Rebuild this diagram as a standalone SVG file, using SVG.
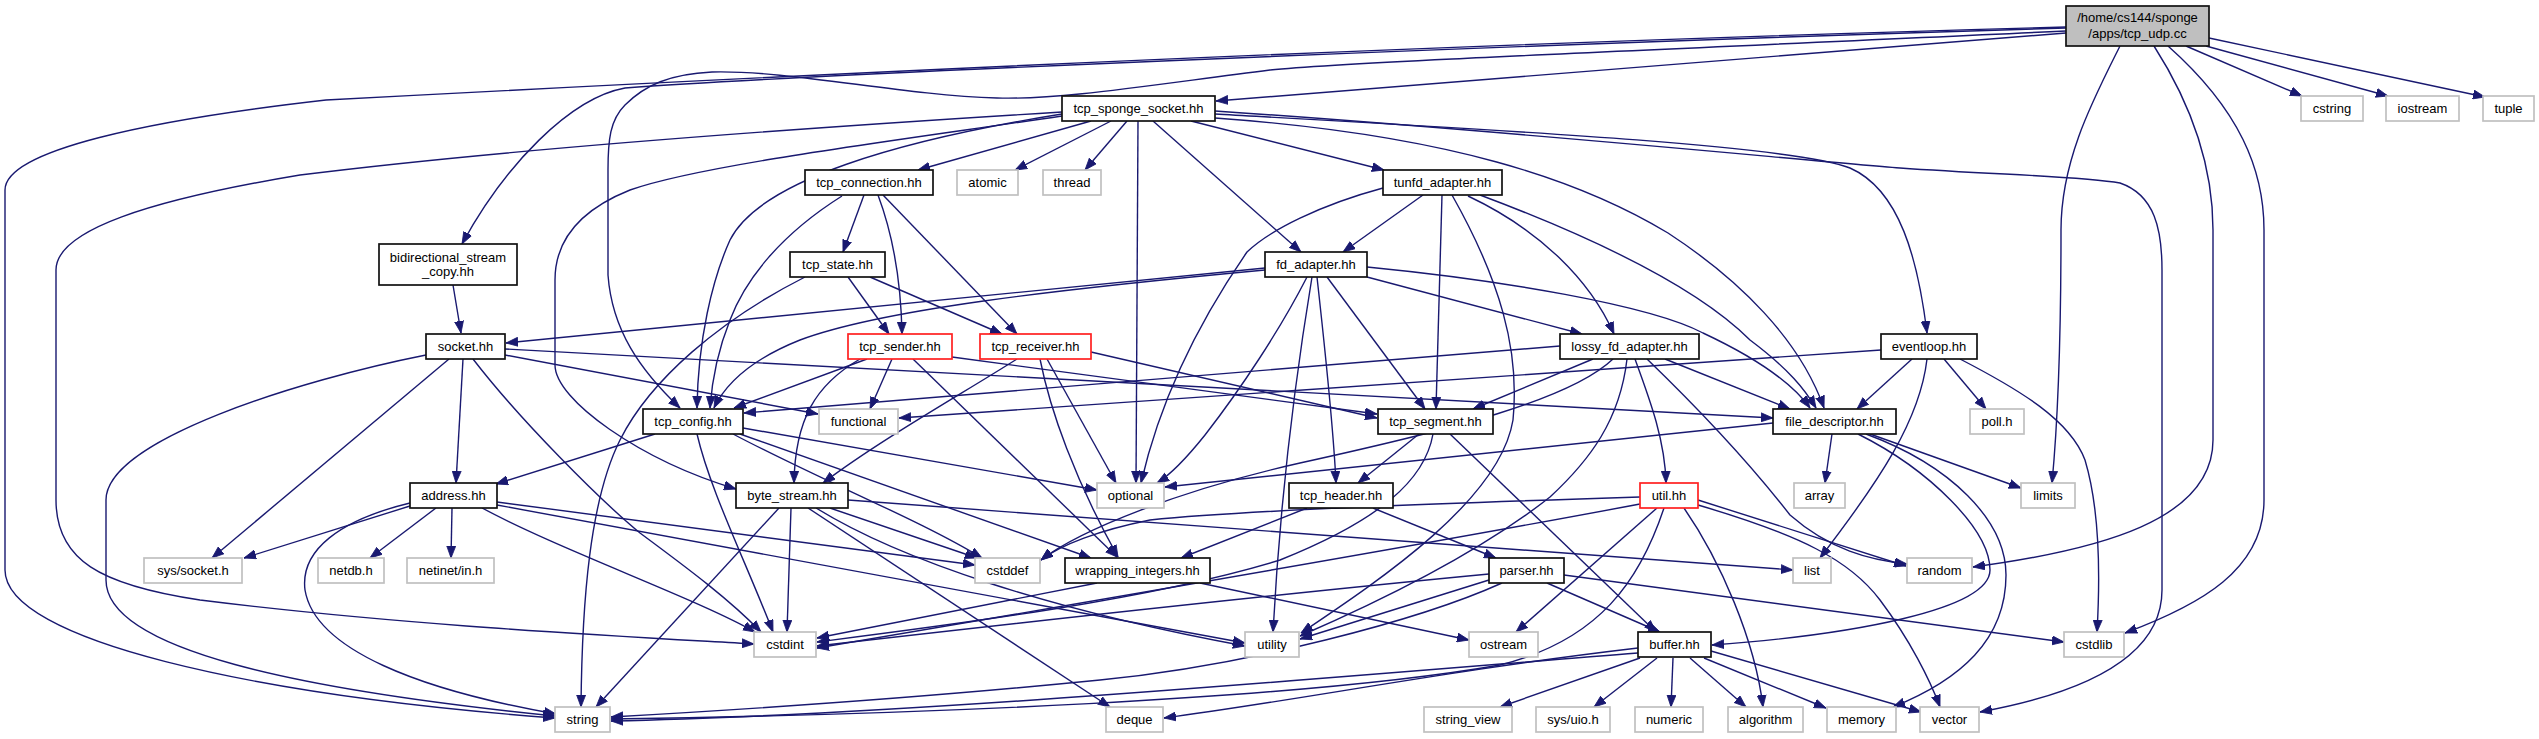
<svg xmlns="http://www.w3.org/2000/svg" width="2539" height="739" viewBox="0 0 2539 739">
<style>
.b rect{fill:#fff;stroke:#111;stroke-width:1.7}
.g rect{fill:#fff;stroke:#c0c0c0;stroke-width:1.7}
.r rect{fill:#fff;stroke:#ff2020;stroke-width:1.7}
.root rect{fill:#bfbfbf;stroke:#111;stroke-width:1.7}
text{font-family:"Liberation Sans",Arial,sans-serif;font-size:13px;text-anchor:middle;fill:#000}
#edges path{fill:none;stroke:#191970;stroke-width:1.4;marker-end:url(#a)}
</style>
<defs>
<marker id="a" markerUnits="userSpaceOnUse" markerWidth="13" markerHeight="10" refX="12" refY="4.5" orient="auto" viewBox="0 0 13 9">
<path d="M0,0 L12,4.5 L0,9 z" fill="#191970" stroke="#191970" stroke-width="0.8"/>
</marker>
</defs>
<rect width="2539" height="739" fill="#fff"/>
<g id="edges">
<path d="M2186,46 L2302,96"/>
<path d="M2206,46 L2388,96"/>
<path d="M2209,38 L2485,97"/>
<path d="M2120,46 C2093,100 2061,160 2061,230 C2061,330 2058,420 2052,483"/>
<path d="M2154,46 C2195,110 2213,170 2213,230 L2213,440 C2213,520 2100,550 1973,567"/>
<path d="M2168,46 C2240,110 2264,170 2264,230 L2264,500 C2264,570 2200,605 2125,633"/>
<path d="M2066,33 C1700,60 1400,85 1216,101"/>
<path d="M2066,31 C1700,48 1350,62 1270,70 C1150,85 1060,100 997,98 C900,95 790,70 712,72 C670,74 645,85 625,105 C610,120 608,140 608,170 L608,275 C612,330 640,370 680,408"/>
<path d="M2066,28 C1500,45 800,75 625,88 C570,98 505,165 462,244"/>
<path d="M2066,27 C1400,45 700,80 326,100 C150,120 5,150 5,190 L5,570 C5,640 250,695 555,718"/>
<path d="M1091,121 L918,170"/>
<path d="M1111,121 L1015,170"/>
<path d="M1127,121 L1085,170"/>
<path d="M1138,121 L1136,483"/>
<path d="M1153,121 L1301,252"/>
<path d="M1191,121 L1384,170"/>
<path d="M1215,111 C1500,130 1800,160 1900,168 C2000,175 2080,176 2120,183 C2155,195 2162,230 2162,270 L2162,590 C2162,650 2100,690 1980,712"/>
<path d="M1215,114 C1500,130 1790,145 1850,168 C1900,190 1918,260 1927,333"/>
<path d="M1215,118 C1450,135 1580,180 1668,233 C1740,280 1800,340 1824,408"/>
<path d="M1062,114 C900,140 760,180 730,240 C712,280 698,340 697,408"/>
<path d="M1062,116 C900,140 700,165 630,190 C580,210 555,240 555,280 L555,365 C555,400 640,460 736,489"/>
<path d="M1062,112 C800,128 500,150 300,175 C150,200 56,230 56,270 L56,500 C56,560 100,585 200,600 C400,625 600,635 754,644"/>
<path d="M864,195 L843,252"/>
<path d="M878,195 C893,235 901,280 902,334"/>
<path d="M883,195 L1017,334"/>
<path d="M842,196 C780,235 745,280 730,320 C718,350 712,380 710,408"/>
<path d="M848,277 L889,334"/>
<path d="M870,277 L1002,334"/>
<path d="M805,277 C720,320 650,380 620,440 C590,500 582,600 581,707"/>
<path d="M867,359 L734,408"/>
<path d="M892,359 L870,409"/>
<path d="M860,359 C815,385 795,420 794,483"/>
<path d="M913,359 L1117,557"/>
<path d="M952,357 L1377,414"/>
<path d="M1017,359 C960,395 880,440 823,483"/>
<path d="M1047,359 L1116,483"/>
<path d="M1040,359 C1050,410 1075,480 1118,557"/>
<path d="M1091,352 L1377,418"/>
<path d="M453,285 L461,333"/>
<path d="M463,359 L456,483"/>
<path d="M505,349 L1773,418"/>
<path d="M473,359 C520,420 600,500 640,533 C690,570 730,600 761,632"/>
<path d="M505,355 L818,414"/>
<path d="M426,355 C300,380 106,440 106,500 L106,580 C106,650 300,690 555,716"/>
<path d="M449,359 L212,558"/>
<path d="M1265,268 L506,343"/>
<path d="M1265,270 C1050,290 880,310 800,340 C750,360 725,385 714,408"/>
<path d="M1367,277 L1582,334"/>
<path d="M1367,267 C1500,280 1650,305 1703,333 C1750,355 1790,380 1810,408"/>
<path d="M1307,277 C1280,330 1240,390 1205,435 C1185,460 1170,475 1157,483"/>
<path d="M1312,277 C1295,380 1280,500 1273,632"/>
<path d="M1317,277 C1325,350 1333,420 1336,483"/>
<path d="M1327,277 L1425,409"/>
<path d="M1423,195 L1343,252"/>
<path d="M1442,195 L1436,409"/>
<path d="M1452,195 C1500,280 1520,350 1513,420 C1500,500 1380,580 1301,633"/>
<path d="M1468,196 C1540,230 1590,280 1614,334"/>
<path d="M1480,195 C1600,240 1700,290 1750,340 C1790,370 1805,390 1816,408"/>
<path d="M1383,188 C1320,205 1270,230 1247,252 C1200,320 1160,400 1141,483"/>
<path d="M1560,346 L744,413"/>
<path d="M1593,359 L1473,409"/>
<path d="M1613,359 C1570,400 1450,430 1300,463 C1180,490 1080,530 1041,560"/>
<path d="M1627,359 C1620,420 1590,460 1550,497 C1470,560 1360,610 1300,636"/>
<path d="M1635,359 C1650,400 1665,440 1666,483"/>
<path d="M1647,359 C1705,415 1755,470 1790,515 C1830,550 1870,560 1907,564"/>
<path d="M1665,359 L1790,409"/>
<path d="M1912,359 L1857,409"/>
<path d="M1944,359 L1986,409"/>
<path d="M1927,359 C1920,420 1880,480 1820,558"/>
<path d="M1960,359 C2020,390 2070,420 2085,460 C2100,510 2100,580 2097,632"/>
<path d="M1881,350 L899,418"/>
<path d="M655,434 L496,484"/>
<path d="M697,434 C710,490 745,560 773,632"/>
<path d="M740,434 L1091,558"/>
<path d="M733,434 C820,480 920,520 982,558"/>
<path d="M743,428 L1097,490"/>
<path d="M410,506 L244,558"/>
<path d="M436,508 L370,558"/>
<path d="M452,508 L451,558"/>
<path d="M410,503 C340,520 300,550 305,590 C315,650 420,690 556,714"/>
<path d="M497,502 L975,565"/>
<path d="M482,508 C560,550 700,600 755,632"/>
<path d="M497,505 L1245,643"/>
<path d="M779,508 L596,707"/>
<path d="M791,508 L787,632"/>
<path d="M808,508 L1110,707"/>
<path d="M816,508 C900,560 1050,610 1245,646"/>
<path d="M830,508 L977,558"/>
<path d="M848,500 L1793,570"/>
<path d="M1419,434 L1358,483"/>
<path d="M1450,434 L1656,632"/>
<path d="M1433,434 C1425,480 1380,520 1280,560 C1150,600 950,625 817,642"/>
<path d="M1307,508 L1181,558"/>
<path d="M1373,508 L1496,558"/>
<path d="M1097,583 L817,638"/>
<path d="M1200,583 L1469,640"/>
<path d="M1547,583 L1660,632"/>
<path d="M1489,574 C1300,592 1000,625 817,646"/>
<path d="M1489,580 L1300,639"/>
<path d="M1502,583 C1420,620 1250,665 1100,680 C900,700 700,712 611,717"/>
<path d="M1564,575 L2064,642"/>
<path d="M1640,497 C1450,503 1250,510 1150,520 C1100,530 1060,545 1041,560"/>
<path d="M1640,504 C1450,540 1100,600 817,648"/>
<path d="M1657,508 L1516,632"/>
<path d="M1664,508 C1640,580 1600,640 1500,665 C1300,700 900,715 611,719"/>
<path d="M1684,508 C1720,560 1755,640 1763,707"/>
<path d="M1698,500 L1906,566"/>
<path d="M1698,505 C1800,535 1850,560 1880,600 C1910,640 1930,680 1940,707"/>
<path d="M1640,658 L1500,707"/>
<path d="M1657,658 L1594,707"/>
<path d="M1673,658 L1671,707"/>
<path d="M1690,658 L1746,707"/>
<path d="M1704,658 L1826,708"/>
<path d="M1711,651 L1921,712"/>
<path d="M1638,648 C1450,670 1300,700 1164,718"/>
<path d="M1638,653 C1300,680 900,715 611,721"/>
<path d="M1773,423 L1165,487"/>
<path d="M1832,434 L1825,483"/>
<path d="M1870,434 L2021,488"/>
<path d="M1858,434 C1930,470 1990,530 1990,570 C1990,610 1850,635 1712,645"/>
<path d="M1866,434 C1950,465 2006,520 2006,575 C2006,640 1960,680 1893,707"/>
</g>
<g id="n_root" class="root"><rect x="2066" y="6" width="143" height="40"/><text x="2137.5" y="22">/home/cs144/sponge</text><text x="2137.5" y="38">/apps/tcp_udp.cc</text></g>
<g id="n_tss" class="b"><rect x="1062" y="96" width="153" height="25"/><text x="1138.5" y="113">tcp_sponge_socket.hh</text></g>
<g id="n_cstring" class="g"><rect x="2301" y="96" width="62" height="25"/><text x="2332" y="113">cstring</text></g>
<g id="n_iostream" class="g"><rect x="2386" y="96" width="73" height="25"/><text x="2422.5" y="113">iostream</text></g>
<g id="n_tuple" class="g"><rect x="2483" y="96" width="51" height="25"/><text x="2508.5" y="113">tuple</text></g>
<g id="n_tc" class="b"><rect x="805" y="170" width="128" height="25"/><text x="869" y="187">tcp_connection.hh</text></g>
<g id="n_atomic" class="g"><rect x="957" y="170" width="61" height="25"/><text x="987.5" y="187">atomic</text></g>
<g id="n_thread" class="g"><rect x="1043" y="170" width="58" height="25"/><text x="1072" y="187">thread</text></g>
<g id="n_tunfd" class="b"><rect x="1383" y="170" width="119" height="25"/><text x="1442.5" y="187">tunfd_adapter.hh</text></g>
<g id="n_bid" class="b"><rect x="379" y="244" width="138" height="41"/><text x="448" y="262">bidirectional_stream</text><text x="448" y="276">_copy.hh</text></g>
<g id="n_ts" class="b"><rect x="790" y="252" width="95" height="25"/><text x="837.5" y="269">tcp_state.hh</text></g>
<g id="n_fd" class="b"><rect x="1265" y="252" width="102" height="25"/><text x="1316" y="269">fd_adapter.hh</text></g>
<g id="n_socket" class="b"><rect x="426" y="334" width="79" height="25"/><text x="465.5" y="351">socket.hh</text></g>
<g id="n_snd" class="r"><rect x="848" y="334" width="104" height="25"/><text x="900" y="351">tcp_sender.hh</text></g>
<g id="n_rcv" class="r"><rect x="980" y="334" width="111" height="25"/><text x="1035.5" y="351">tcp_receiver.hh</text></g>
<g id="n_lossy" class="b"><rect x="1560" y="334" width="139" height="25"/><text x="1629.5" y="351">lossy_fd_adapter.hh</text></g>
<g id="n_ev" class="b"><rect x="1881" y="334" width="96" height="25"/><text x="1929" y="351">eventloop.hh</text></g>
<g id="n_cfg" class="b"><rect x="643" y="409" width="100" height="25"/><text x="693" y="426">tcp_config.hh</text></g>
<g id="n_functional" class="g"><rect x="819" y="409" width="79" height="25"/><text x="858.5" y="426">functional</text></g>
<g id="n_seg" class="b"><rect x="1378" y="409" width="115" height="25"/><text x="1435.5" y="426">tcp_segment.hh</text></g>
<g id="n_fds" class="b"><rect x="1773" y="409" width="123" height="25"/><text x="1834.5" y="426">file_descriptor.hh</text></g>
<g id="n_poll" class="g"><rect x="1970" y="409" width="54" height="25"/><text x="1997" y="426">poll.h</text></g>
<g id="n_addr" class="b"><rect x="410" y="483" width="87" height="25"/><text x="453.5" y="500">address.hh</text></g>
<g id="n_bs" class="b"><rect x="736" y="483" width="112" height="25"/><text x="792" y="500">byte_stream.hh</text></g>
<g id="n_optional" class="g"><rect x="1097" y="483" width="67" height="25"/><text x="1130.5" y="500">optional</text></g>
<g id="n_hdr" class="b"><rect x="1289" y="483" width="104" height="25"/><text x="1341" y="500">tcp_header.hh</text></g>
<g id="n_util" class="r"><rect x="1640" y="483" width="58" height="25"/><text x="1669" y="500">util.hh</text></g>
<g id="n_array" class="g"><rect x="1794" y="483" width="51" height="25"/><text x="1819.5" y="500">array</text></g>
<g id="n_limits" class="g"><rect x="2021" y="483" width="54" height="25"/><text x="2048" y="500">limits</text></g>
<g id="n_syssocket" class="g"><rect x="144" y="558" width="98" height="25"/><text x="193" y="575">sys/socket.h</text></g>
<g id="n_netdb" class="g"><rect x="318" y="558" width="66" height="25"/><text x="351" y="575">netdb.h</text></g>
<g id="n_netinet" class="g"><rect x="407" y="558" width="87" height="25"/><text x="450.5" y="575">netinet/in.h</text></g>
<g id="n_cstddef" class="g"><rect x="975" y="558" width="65" height="25"/><text x="1007.5" y="575">cstddef</text></g>
<g id="n_wi" class="b"><rect x="1065" y="558" width="145" height="25"/><text x="1137.5" y="575">wrapping_integers.hh</text></g>
<g id="n_parser" class="b"><rect x="1489" y="558" width="75" height="25"/><text x="1526.5" y="575">parser.hh</text></g>
<g id="n_list" class="g"><rect x="1793" y="558" width="38" height="25"/><text x="1812" y="575">list</text></g>
<g id="n_random" class="g"><rect x="1907" y="558" width="65" height="25"/><text x="1939.5" y="575">random</text></g>
<g id="n_cstdint" class="g"><rect x="754" y="632" width="62" height="25"/><text x="785" y="649">cstdint</text></g>
<g id="n_utility" class="g"><rect x="1245" y="632" width="54" height="25"/><text x="1272" y="649">utility</text></g>
<g id="n_ostream" class="g"><rect x="1469" y="632" width="69" height="25"/><text x="1503.5" y="649">ostream</text></g>
<g id="n_buffer" class="b"><rect x="1638" y="632" width="73" height="25"/><text x="1674.5" y="649">buffer.hh</text></g>
<g id="n_cstdlib" class="g"><rect x="2064" y="632" width="60" height="25"/><text x="2094" y="649">cstdlib</text></g>
<g id="n_string" class="g"><rect x="555" y="707" width="55" height="25"/><text x="582.5" y="724">string</text></g>
<g id="n_deque" class="g"><rect x="1106" y="707" width="57" height="25"/><text x="1134.5" y="724">deque</text></g>
<g id="n_stringview" class="g"><rect x="1424" y="707" width="88" height="25"/><text x="1468" y="724">string_view</text></g>
<g id="n_sysuio" class="g"><rect x="1536" y="707" width="74" height="25"/><text x="1573" y="724">sys/uio.h</text></g>
<g id="n_numeric" class="g"><rect x="1635" y="707" width="68" height="25"/><text x="1669" y="724">numeric</text></g>
<g id="n_algorithm" class="g"><rect x="1728" y="707" width="75" height="25"/><text x="1765.5" y="724">algorithm</text></g>
<g id="n_memory" class="g"><rect x="1827" y="707" width="69" height="25"/><text x="1861.5" y="724">memory</text></g>
<g id="n_vector" class="g"><rect x="1920" y="707" width="59" height="25"/><text x="1949.5" y="724">vector</text></g>
</svg>
